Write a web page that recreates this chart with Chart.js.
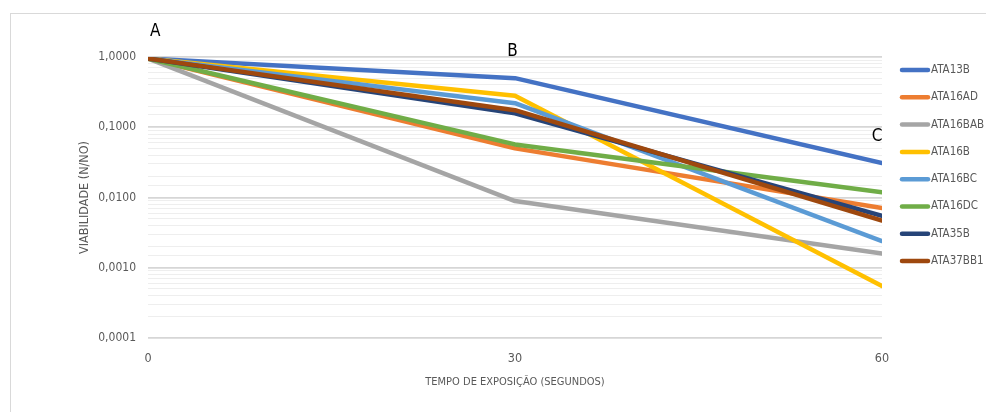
<!DOCTYPE html>
<html>
<head>
<meta charset="utf-8">
<script src="https://cdn.jsdelivr.net/npm/chart.js@4/dist/chart.umd.min.js"></script>
<style>
  html, body { margin: 0; padding: 0; background: #ffffff; overflow: hidden; }
  #wrap { position: relative; width: 986px; height: 412px; }
  #frame { position: absolute; left: 10px; top: 13px; width: 1000px; height: 420px; border: 1px solid #d9d9d9; box-sizing: border-box; }
  canvas { position: absolute; left: 0; top: 0; }
</style>
</head>
<body>
<div id="wrap">
  <div id="frame"></div>
  <canvas id="c" width="986" height="412"></canvas>
</div>
<script>
// ---- data ----
const times = [0, 30, 60];
const seriesNames = ['ATA13B', 'ATA16AD', 'ATA16BAB', 'ATA16B', 'ATA16BC', 'ATA16DC', 'ATA35B', 'ATA37BB1'];
const ATA13B   = [0.95, 0.50,  0.031];
const ATA16AD  = [0.95, 0.050, 0.0071];
const ATA16BAB = [0.95, 0.0089, 0.0016];
const ATA16B   = [0.95, 0.28,  0.00055];
const ATA16BC  = [0.95, 0.22,  0.0024];
const ATA16DC  = [0.95, 0.057, 0.0119];
const ATA35B   = [0.95, 0.158, 0.0055];
const ATA37BB1 = [0.95, 0.175, 0.0047];
const seriesValues = [ATA13B, ATA16AD, ATA16BAB, ATA16B, ATA16BC, ATA16DC, ATA35B, ATA37BB1];
const seriesColors = ['#4472C4', '#ED7D31', '#A5A5A5', '#FFC000', '#5B9BD5', '#70AD47', '#264478', '#9E480E'];
const xTickValues = [0, 30, 60];
const annotationText = ['A', 'B', 'C'];
const annotationX = [0.6, 29.8, 59.6];
const annotationY = [2.3, 1.18, 0.073];

const NARROW = '"DejaVu Sans Condensed", "Liberation Sans Narrow", "Liberation Sans", Arial, sans-serif';
const TEXT = '#595959';

function isDecade(v) {
  const l = Math.log10(v);
  return Math.abs(l - Math.round(l)) < 1e-9;
}

const datasets = seriesNames.map((name, i) => ({
  label: name,
  data: times.map((t, k) => ({ x: t, y: seriesValues[i][k] })),
  borderColor: seriesColors[i],
  backgroundColor: seriesColors[i],
  borderWidth: 4.5,
  pointRadius: 0,
  tension: 0,
  fill: false,
  borderJoinStyle: 'round',
  borderCapStyle: 'round',
  order: seriesNames.length - i
}));

const legendPlugin = {
  id: 'sideLegend',
  afterDraw(chart) {
    const ctx = chart.ctx;
    ctx.save();
    ctx.font = '11.5px ' + NARROW;
    ctx.textBaseline = 'middle';
    ctx.textAlign = 'left';
    chart.data.datasets.forEach((ds, i) => {
      const y = 70 + i * 27.3;
      ctx.strokeStyle = ds.borderColor;
      ctx.lineWidth = 4.5;
      ctx.lineCap = 'round';
      ctx.beginPath();
      ctx.moveTo(902, y);
      ctx.lineTo(928, y);
      ctx.stroke();
      ctx.fillStyle = TEXT;
      ctx.fillText(ds.label, 931, y);
    });
    ctx.restore();
  }
};

const annotationPlugin = {
  id: 'letters',
  afterDraw(chart) {
    const ctx = chart.ctx;
    const xs = chart.scales.x, ys = chart.scales.y;
    ctx.save();
    ctx.font = '17px ' + NARROW;
    ctx.fillStyle = '#000000';
    ctx.textAlign = 'center';
    ctx.textBaseline = 'middle';
    annotationText.forEach((t, i) => {
      ctx.fillText(t, xs.getPixelForValue(annotationX[i]), ys.getPixelForValue(annotationY[i]));
    });
    ctx.restore();
  }
};

new Chart(document.getElementById('c'), {
  type: 'line',
  data: { datasets },
  plugins: [legendPlugin, annotationPlugin],
  options: {
    responsive: false,
    animation: false,
    devicePixelRatio: 1,
    layout: { padding: { top: 57, right: 104, bottom: 0, left: 0 } },
    plugins: { legend: { display: false }, tooltip: { enabled: false } },
    scales: {
      x: {
        type: 'linear',
        min: 0, max: 60,
        afterBuildTicks(scale) { scale.ticks = xTickValues.map(v => ({ value: v })); },
        afterFit(scale) { scale.height = 74; },
        grid: { display: false, drawTicks: false },
        border: { display: false },
        ticks: { color: TEXT, font: { family: NARROW, size: 12.5 }, padding: 13, maxRotation: 0 },
        title: {
          display: true,
          text: 'TEMPO DE EXPOSIÇÃO (SEGUNDOS)',
          color: TEXT,
          font: { family: NARROW, size: 11 },
          padding: { top: 0, bottom: 23 }
        }
      },
      y: {
        type: 'logarithmic',
        min: 0.0001, max: 1,
        afterFit(scale) { scale.width = 148; },
        grid: {
          drawTicks: false,
          color: c => isDecade(c.tick.value) ? '#d6d6d6' : '#eeeeee',
          lineWidth: c => isDecade(c.tick.value) ? 1.8 : 1
        },
        border: { display: false },
        ticks: {
          autoSkip: false,
          color: TEXT,
          font: { family: NARROW, size: 12 },
          padding: 12,
          callback: v => isDecade(v) ? v.toFixed(4).replace('.', ',') : ''
        },
        title: {
          display: true,
          text: 'VIABILIDADE (N/NO)',
          color: TEXT,
          font: { family: NARROW, size: 12.5 },
          padding: { top: 77, bottom: 0 }
        }
      }
    }
  }
});
</script>
</body>
</html>
